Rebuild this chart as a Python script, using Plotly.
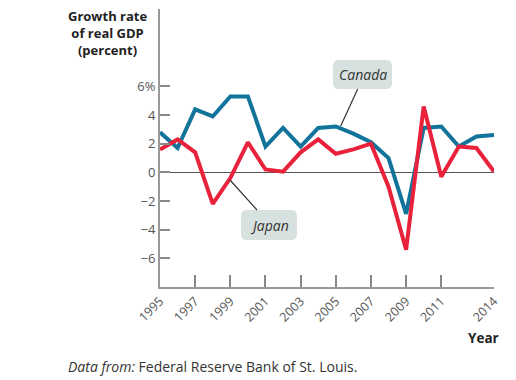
import plotly.graph_objects as go

years = list(range(1995, 2015))
canada = [2.8, 1.7, 4.4, 3.9, 5.3, 5.3, 1.8, 3.1, 1.8, 3.1, 3.2, 2.7, 2.1, 1.0, -2.9, 3.1, 3.2, 1.8, 2.5, 2.6]
japan = [1.6, 2.3, 1.4, -2.2, -0.4, 2.1, 0.2, 0.05, 1.4, 2.3, 1.3, 1.6, 2.0, -1.0, -5.4, 4.6, -0.3, 1.8, 1.7, 0.05]

x_tickvals = [1995, 1997, 1999, 2001, 2003, 2005, 2007, 2009, 2011, 2014]
x_ticktext = [str(v) for v in x_tickvals]
y_tickvals = [-6, -4, -2, 0, 2, 4, 6]
y_ticktext = ["\u22126", "\u22124", "\u22122", "0", "2", "4", "6%"]

BLUE = "#12739b"
RED = "#e8223b"
BOX = "#d7e1df"

# plot-area geometry in pixels
L, R, T, B = 160, 494, 9, 287
W, H = R - L, B - T


def px(x):
    return (x - L) / W


def py(y):
    return (B - y) / H


fig = go.Figure()
fig.add_trace(go.Scatter(x=years, y=canada, mode="lines", name="Canada",
                         line=dict(color=BLUE, width=4), showlegend=False))
fig.add_trace(go.Scatter(x=years, y=japan, mode="lines", name="Japan",
                         line=dict(color=RED, width=4), showlegend=False))

tickfont = dict(family="Open Sans", size=12.5, color="#555555")

fig.update_layout(
    width=516, height=380,
    margin=dict(l=L, r=516 - R, t=T, b=380 - B),
    paper_bgcolor="white", plot_bgcolor="white",
    xaxis=dict(range=[1995, 2014], tickvals=x_tickvals, ticktext=x_ticktext,
               tickangle=-45, ticks="inside", ticklen=12, tickcolor="#888888",
               tickwidth=1.5, showline=True, linecolor="#999999", linewidth=2,
               showgrid=False, zeroline=False, tickfont=tickfont, fixedrange=True,
               automargin=False),
    yaxis=dict(range=[-8.0, 11.4], tickvals=y_tickvals, ticktext=y_ticktext,
               ticks="inside", ticklen=10, tickcolor="#888888", tickwidth=1.5,
               showline=True, linecolor="#999999", linewidth=2, showgrid=False,
               zeroline=True, zerolinecolor="#555555", zerolinewidth=1,
               tickfont=dict(family="Open Sans", size=13, color="#555555"),
               fixedrange=True, automargin=False),
)


def rounded_box(x0, y0, x1, y1, r):
    rx, ry = r / W, r / H
    X0, X1, Y0, Y1 = px(x0), px(x1), py(y1), py(y0)
    path = (f"M {X0+rx},{Y0} L {X1-rx},{Y0} Q {X1},{Y0} {X1},{Y0+ry} "
            f"L {X1},{Y1-ry} Q {X1},{Y1} {X1-rx},{Y1} L {X0+rx},{Y1} "
            f"Q {X0},{Y1} {X0},{Y1-ry} L {X0},{Y0+ry} Q {X0},{Y0} {X0+rx},{Y0} Z")
    return dict(type="path", path=path, xref="paper", yref="paper",
                fillcolor=BOX, line=dict(width=0), layer="above")


fig.add_shape(rounded_box(333, 60, 392, 89, 6))
fig.add_shape(rounded_box(241, 210, 297, 240, 6))

# leader lines
fig.add_shape(type="line", xref="paper", yref="paper",
              x0=px(340.7), y0=py(126), x1=px(357.7), y1=py(89),
              line=dict(color="#333333", width=1.2))
fig.add_shape(type="line", xref="paper", yref="paper",
              x0=px(230), y0=py(180), x1=px(257), y1=py(210),
              line=dict(color="#333333", width=1.2))

fig.add_annotation(x=px(362.5), y=py(74.5), xref="paper", yref="paper",
                   xanchor="center", yanchor="middle",
                   text="<i>Canada</i>", showarrow=False,
                   font=dict(family="Open Sans", size=14, color="#333333"))
fig.add_annotation(x=px(269), y=py(225), xref="paper", yref="paper",
                   xanchor="center", yanchor="middle",
                   text="<i>Japan</i>", showarrow=False,
                   font=dict(family="Open Sans", size=14, color="#333333"))

fig.add_annotation(x=px(107), y=py(33), xref="paper", yref="paper",
                   xanchor="center", yanchor="middle", align="center",
                   text="<b>Growth rate<br>of real GDP<br>(percent)</b>", showarrow=False,
                   font=dict(family="Open Sans", size=13, color="#222222"))

fig.add_annotation(x=px(501), y=py(338), xref="paper", yref="paper",
                   text="<b>Year</b>", showarrow=False, xanchor="right", yanchor="middle",
                   font=dict(family="Open Sans", size=13.5, color="#222222"))

fig.add_annotation(x=px(66), y=py(366), xref="paper", yref="paper",
                   text="<i>Data from:</i> Federal Reserve Bank of St. Louis.", showarrow=False,
                   xanchor="left", yanchor="middle",
                   font=dict(family="Open Sans", size=14, color="#333333"))

fig.write_html("out.html", config={"displayModeBar": False},
               post_script="document.body.style.margin='0';")
